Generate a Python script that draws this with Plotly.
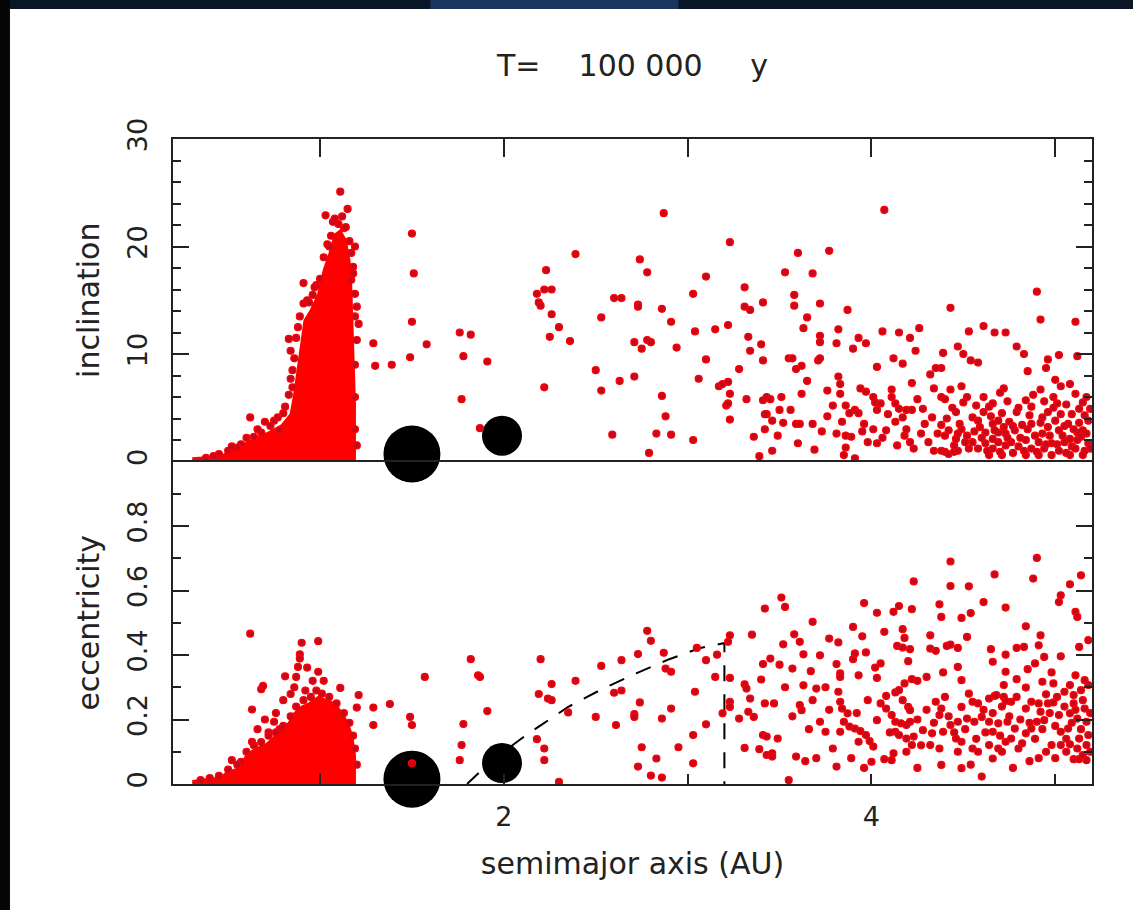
import plotly.graph_objects as go

# ---------------- data ----------------
x_range = [0.2, 5.2]
x_tickvals = [1, 2, 3, 4, 5]
x_ticktext = ["", "2", "", "4", ""]

# dense inner cluster (outline) - inclination panel
inc_blob_a = [0.31, 0.31, 0.46, 0.50, 0.57, 0.64, 0.72, 0.79, 0.84, 0.86, 0.88, 0.90,
              0.915, 0.95, 0.99, 1.02, 1.05, 1.08, 1.11, 1.14, 1.16, 1.17, 1.18, 1.19, 1.19]
inc_blob_i = [0, 0.3, 0.5, 0.87, 1.5, 2.1, 2.7, 3.35, 4.4, 6.3, 8.8, 11.3,
              13.1, 14.1, 15.6, 17.8, 19.3, 21.1, 21.5, 20.6, 18.7, 16.2, 11.6, 5.4, 0]

# dense inner cluster (outline) - eccentricity panel
ecc_blob_a = [0.31, 0.31, 0.46, 0.49, 0.56, 0.60, 0.65, 0.70, 0.74, 0.79, 0.83, 0.86,
              0.90, 0.94, 0.99, 1.03, 1.08, 1.12, 1.15, 1.175, 1.19, 1.19]
ecc_blob_e = [0, 0.01, 0.02, 0.035, 0.05, 0.09, 0.11, 0.12, 0.14, 0.17, 0.19, 0.22,
              0.24, 0.25, 0.27, 0.26, 0.25, 0.22, 0.19, 0.15, 0.09, 0]

# individual particles (a, inclination)
inc_points = [
    (1.11, 25.1), (1.03, 22.9), (1.15, 23.5), (1.10, 22.1), (1.13, 21.7), (1.07, 22.3),
    (0.91, 16.6), (0.91, 14.7), (0.98, 16.4), (0.83, 11.4), (0.84, 10.3), (0.85, 8.5),
    (0.84, 7.7), (0.85, 6.9), (0.81, 5.1), (0.75, 3.8), (0.78, 2.9), (0.70, 3.7),
    (0.68, 2.7), (0.62, 4.1), (0.57, 1.6), (0.50, 1.0), (1.19, 20.0), (1.18, 18.1),
    (1.17, 16.9), (1.19, 15.6), (1.20, 14.4), (1.21, 12.8), (1.20, 11.3),
    (0.88, 12.5), (0.89, 13.5), (0.93, 15.0), (0.96, 15.5), (1.00, 17.0), (1.02, 19.0),
    (1.04, 20.2), (1.06, 21.0), (1.08, 22.6), (1.12, 22.8), (1.14, 21.8), (1.16, 20.5),
    (1.17, 19.4), (1.18, 17.5), (1.19, 13.5), (1.19, 9.0), (1.19, 6.0), (1.19, 3.0),
    (1.20, 1.5), (0.86, 9.6), (0.87, 11.5), (0.83, 6.2), (0.80, 4.5), (0.77, 4.1),
    (0.73, 3.3), (0.66, 3.0), (0.64, 2.3), (0.60, 2.2), (0.55, 1.3), (0.52, 1.4),
    (0.45, 0.7), (0.42, 0.5), (0.38, 0.35), (0.94, 14.8), (0.97, 16.2), (1.05, 20.0),
    (1.50, 21.2), (1.51, 17.5), (1.50, 13.0), (1.49, 9.7), (1.29, 11.0), (1.30, 8.9),
    (1.39, 9.0), (1.58, 10.9), (1.76, 12.0), (1.82, 11.8), (1.78, 9.8), (1.91, 9.3),
    (1.77, 5.8), (1.87, 3.1),
    (2.23, 17.8), (2.18, 15.6), (2.22, 16.0), (2.26, 16.0), (2.19, 14.8), (2.20, 14.5),
    (2.26, 13.7), (2.30, 12.5), (2.25, 11.6), (2.36, 11.2), (2.22, 6.9), (2.39, 19.3),
    (2.53, 13.4), (2.50, 8.5), (2.53, 6.6), (2.59, 2.5), (2.60, 15.2), (2.64, 15.2),
    (2.73, 14.6), (2.73, 14.4), (2.74, 18.8), (2.78, 17.6), (2.71, 11.1), (2.78, 11.3),
    (2.80, 11.1), (2.75, 10.5), (2.63, 7.5), (2.71, 7.9), (2.87, 23.1), (2.86, 14.2),
    (2.91, 13.0), (2.94, 10.6), (2.86, 6.1), (2.88, 4.2), (2.83, 2.6), (2.91, 2.5),
    (2.79, 0.8), (3.10, 17.2), (3.03, 15.6), (3.04, 12.1), (3.15, 12.3), (3.22, 12.7),
    (3.10, 9.5), (3.06, 7.7), (3.28, 8.6), (3.17, 7.0), (3.19, 7.2), (3.22, 7.4),
    (3.23, 6.3), (3.21, 5.2), (3.22, 5.4), (3.23, 3.9), (3.03, 2.0), (3.23, 20.4),
    (3.31, 16.2), (3.31, 14.4), (3.34, 14.1), (3.41, 14.8), (3.33, 11.6), (3.40, 10.9),
    (3.34, 10.3), (3.41, 9.4), (3.32, 5.8), (3.41, 5.7), (3.43, 4.4), (3.42, 3.0),
    (3.36, 2.3), (3.39, 0.5),
    (4.07, 23.4), (3.60, 19.4), (3.77, 19.6), (3.53, 17.6), (3.68, 17.5), (3.58, 15.5),
    (3.58, 14.5), (3.72, 14.7), (3.87, 14.1), (3.65, 13.4), (3.63, 12.4), (3.82, 12.3),
    (3.72, 11.7), (3.72, 11.1), (3.81, 11.0), (3.93, 11.5), (3.97, 11.0), (3.90, 10.5),
    (4.06, 12.1), (4.15, 12.0), (4.21, 11.5), (4.26, 12.4), (4.24, 10.3), (4.12, 9.6),
    (4.17, 9.1), (4.03, 8.8), (4.43, 14.3), (4.53, 12.1), (4.61, 12.6), (4.67, 12.0),
    (4.73, 12.0), (4.79, 10.7), (4.83, 10.0), (4.85, 8.4), (4.90, 15.8), (4.92, 13.2),
    (5.11, 13.0), (4.96, 9.5), (4.95, 8.7), (5.02, 9.9), (5.12, 9.8), (4.47, 10.7),
    (4.50, 10.0), (4.54, 9.4), (4.58, 9.2), (4.39, 10.1), (4.38, 8.7), (4.35, 8.7),
    (4.32, 8.1), (4.49, 7.0), (4.43, 6.7), (4.34, 6.8), (4.52, 6.0), (4.72, 6.8),
    (4.92, 6.7), (5.03, 7.0), (5.08, 7.2),
    (3.55, 9.6), (3.57, 9.6), (3.62, 8.9), (3.59, 8.6), (3.71, 9.4), (3.72, 9.6),
    (3.65, 7.5), (3.62, 6.3), (3.51, 6.0), (3.43, 6.0), (3.45, 5.8), (3.42, 4.4),
    (3.46, 3.8), (3.52, 3.6), (3.59, 3.5), (3.61, 3.5), (3.49, 2.4), (3.46, 1.0),
    (3.60, 1.7), (3.68, 3.5), (3.76, 6.6), (3.76, 4.2), (3.82, 7.9), (3.83, 7.2),
    (3.83, 6.3), (3.86, 5.2), (3.84, 3.7), (3.81, 2.6), (3.86, 2.4), (3.89, 2.3),
    (3.86, 1.3), (3.85, 0.6), (3.91, 0.3), (3.94, 6.8), (3.97, 6.5), (3.91, 4.8),
    (3.93, 4.5), (3.96, 3.5), (4.01, 6.0), (4.02, 5.5), (4.05, 5.4), (4.03, 4.8),
    (4.11, 6.7), (4.11, 6.0), (4.13, 5.4), (4.15, 4.9), (4.08, 2.9), (4.01, 3.0),
    (4.03, 1.7), (4.13, 3.7), (4.17, 4.1), (4.19, 4.8), (4.22, 4.8), (4.14, 1.5),
    (4.18, 2.4), (4.21, 1.8), (4.23, 1.2), (4.22, 7.3), (4.28, 4.9), (4.29, 3.5),
    (4.33, 4.1), (4.34, 1.0), (4.38, 1.0), (4.40, 0.9), (4.42, 0.7), (4.45, 0.9),
    (4.47, 1.0), (4.38, 3.4), (4.40, 2.4), (4.42, 2.9), (4.46, 2.1), (4.47, 2.6),
    (4.51, 1.8), (4.38, 6.0), (4.40, 5.8), (4.46, 4.6), (4.48, 3.5), (4.52, 2.4),
    (4.55, 4.1), (4.58, 3.8), (4.61, 4.6), (4.64, 5.1), (4.66, 5.4),
    (4.55, 1.8), (4.58, 1.2), (4.62, 1.7), (4.66, 1.2), (4.69, 1.8), (4.73, 1.5),
    (4.76, 1.8), (4.80, 1.4), (4.84, 2.0), (4.87, 1.2), (4.91, 1.8), (4.94, 1.2),
    (4.98, 1.7), (5.02, 1.0), (5.05, 1.8), (5.09, 1.4), (5.12, 2.0), (5.16, 1.0),
    (5.18, 1.7), (4.64, 0.6), (4.71, 0.6), (4.84, 0.6), (4.91, 0.6), (4.98, 0.6),
    (5.08, 0.6), (5.15, 0.6),
    (4.84, 5.7), (4.87, 5.1), (4.93, 4.1), (4.96, 4.6), (4.99, 6.0), (5.01, 5.4),
    (5.03, 4.4), (5.09, 4.4), (5.13, 4.9), (5.17, 6.0), (5.18, 3.8), (5.15, 2.9),
    (5.12, 2.7), (5.07, 3.5), (5.02, 2.9), (4.96, 3.2), (4.93, 2.6), (4.87, 3.5),
    (4.82, 3.4), (4.78, 2.9), (4.73, 2.6), (4.69, 2.7), (4.66, 2.1), (4.59, 3.2),
    (4.62, 2.7), (4.66, 3.5), (4.69, 3.8), (4.72, 3.2), (4.75, 3.7),
    (4.45, 1.5), (4.49, 3.0), (4.53, 1.2), (4.56, 2.8), (4.60, 2.2), (4.63, 1.0),
    (4.65, 4.2), (4.67, 2.9), (4.70, 0.9), (4.71, 4.5), (4.74, 2.2), (4.77, 0.8),
    (4.77, 3.3), (4.79, 4.6), (4.81, 2.2), (4.83, 1.0), (4.85, 3.0), (4.86, 4.3),
    (4.89, 2.4), (4.90, 0.9), (4.92, 3.6), (4.95, 1.6), (4.97, 2.4), (4.99, 5.0),
    (5.00, 3.8), (5.01, 1.6), (5.04, 2.4), (5.05, 3.3), (5.06, 0.8), (5.08, 2.1),
    (5.10, 3.0), (5.11, 1.2), (5.13, 3.6), (5.14, 2.3), (5.16, 4.3), (5.17, 2.6),
    (5.19, 1.2), (5.19, 4.9), (5.15, 5.5), (5.11, 6.3), (5.06, 5.3), (5.00, 7.6),
    (4.94, 5.6), (4.88, 6.2), (4.80, 5.0), (4.74, 5.6), (4.70, 6.4), (4.61, 6.0),
    (4.57, 5.2), (4.50, 5.5), (4.44, 5.0), (4.41, 4.0), (4.36, 2.6), (4.31, 1.8),
    (4.27, 2.6), (4.25, 5.8), (4.19, 3.0), (4.09, 4.4), (4.06, 2.2), (3.98, 1.8),
    (3.95, 2.8), (3.88, 4.5), (3.79, 5.2), (3.73, 2.8), (3.69, 1.1), (3.56, 4.8),
    (3.50, 4.8),
]

# individual particles (a, eccentricity)
ecc_points = [
    (0.62, 0.466), (0.90, 0.438), (0.99, 0.443), (0.89, 0.402), (0.89, 0.389), (0.88, 0.363),
    (0.93, 0.361), (0.99, 0.348), (0.81, 0.334), (0.87, 0.332), (0.68, 0.294), (0.69, 0.304),
    (0.84, 0.279), (0.63, 0.231), (1.11, 0.298), (1.21, 0.276), (1.20, 0.237), (1.29, 0.237),
    (1.38, 0.248), (1.29, 0.183), (1.57, 0.332), (1.49, 0.208), (1.50, 0.183), (0.63, 0.131),
    (0.52, 0.074), (0.57, 0.069), (0.75, 0.193), (0.96, 0.32), (1.02, 0.32), (0.78, 0.17),
    (0.72, 0.16), (1.50, 0.064),
    (0.60, 0.10), (0.64, 0.12), (0.68, 0.13), (0.72, 0.15), (0.76, 0.16), (0.80, 0.18),
    (0.84, 0.21), (0.87, 0.24), (0.91, 0.26), (0.95, 0.27), (0.98, 0.29), (1.01, 0.28),
    (1.05, 0.27), (1.09, 0.25), (1.13, 0.22), (1.16, 0.19), (1.18, 0.15), (1.19, 0.11),
    (1.20, 0.06), (0.86, 0.30), (0.92, 0.29), (0.80, 0.26), (0.76, 0.22), (0.70, 0.20),
    (0.66, 0.17), (0.55, 0.06), (0.50, 0.045), (0.45, 0.025), (0.40, 0.018), (0.35, 0.012),
    (1.82, 0.387), (1.86, 0.337), (1.87, 0.332), (1.91, 0.226), (1.78, 0.186), (1.77, 0.121),
    (1.76, 0.074), (2.20, 0.387), (2.26, 0.310), (2.19, 0.279), (2.24, 0.265), (2.26, 0.260),
    (2.18, 0.139), (2.22, 0.110), (2.22, 0.074), (2.30, 0.007), (2.39, 0.320), (2.35, 0.222),
    (2.53, 0.366), (2.50, 0.208), (2.60, 0.283), (2.64, 0.290), (2.64, 0.384), (2.61, 0.183),
    (2.73, 0.403), (2.78, 0.475), (2.80, 0.444), (2.74, 0.253), (2.71, 0.217), (2.71, 0.208),
    (2.87, 0.407), (2.88, 0.358), (2.91, 0.348), (2.91, 0.234), (2.86, 0.203), (2.75, 0.114),
    (2.83, 0.079), (2.73, 0.054), (2.80, 0.026), (2.86, 0.020), (2.95, 0.114), (3.04, 0.286),
    (3.05, 0.422), (3.10, 0.384), (3.16, 0.401), (3.15, 0.332), (3.03, 0.152), (3.03, 0.064),
    (3.10, 0.185), (3.23, 0.461), (3.22, 0.441), (3.23, 0.329), (3.23, 0.255), (3.23, 0.239),
    (3.19, 0.219), (3.35, 0.463), (3.42, 0.544), (3.41, 0.372), (3.40, 0.324), (3.31, 0.309),
    (3.32, 0.296), (3.34, 0.265), (3.33, 0.224), (3.36, 0.208), (3.28, 0.203), (3.42, 0.250),
    (3.41, 0.152), (3.31, 0.112), (3.39, 0.108), (3.43, 0.090),
    (4.43, 0.690), (4.90, 0.701), (4.67, 0.650), (4.88, 0.637), (5.14, 0.647), (5.08, 0.619),
    (5.03, 0.585), (5.02, 0.564), (5.11, 0.534), (5.12, 0.518), (5.13, 0.425), (5.18, 0.446),
    (4.23, 0.628), (4.43, 0.614), (4.53, 0.613), (4.61, 0.564), (4.73, 0.547), (4.37, 0.557),
    (4.38, 0.518), (4.49, 0.515), (4.54, 0.530), (4.22, 0.542), (4.12, 0.534), (4.15, 0.552),
    (4.03, 0.531), (3.96, 0.561), (3.51, 0.578), (3.53, 0.549), (3.68, 0.503), (3.58, 0.464),
    (3.61, 0.441), (3.52, 0.433), (3.63, 0.402), (3.45, 0.389), (3.57, 0.358), (3.72, 0.399),
    (3.77, 0.451), (3.82, 0.439), (3.90, 0.487), (3.95, 0.458), (3.91, 0.405), (3.90, 0.387),
    (3.97, 0.408), (3.81, 0.372), (3.83, 0.343), (3.83, 0.332), (3.93, 0.337), (4.07, 0.472),
    (4.17, 0.480), (4.18, 0.453), (4.14, 0.428), (4.17, 0.423), (4.21, 0.418), (4.20, 0.381),
    (4.05, 0.374), (4.02, 0.361), (4.03, 0.329), (4.32, 0.461), (4.32, 0.420), (4.35, 0.413),
    (4.41, 0.428), (4.43, 0.432), (4.47, 0.422), (4.52, 0.456), (4.47, 0.363), (4.39, 0.346),
    (4.49, 0.322), (4.18, 0.312), (4.22, 0.325), (4.25, 0.320), (4.30, 0.332), (4.08, 0.273),
    (4.13, 0.284), (4.15, 0.291), (4.65, 0.418), (4.66, 0.379), (4.73, 0.348), (4.72, 0.307),
    (4.73, 0.401), (4.79, 0.422), (4.83, 0.425), (4.84, 0.489), (4.92, 0.461), (4.91, 0.430),
    (4.94, 0.394), (4.89, 0.374), (4.85, 0.356), (4.98, 0.346), (4.93, 0.317), (4.99, 0.312),
    (5.03, 0.396), (4.79, 0.325), (4.84, 0.299), (4.72, 0.270), (4.76, 0.255), (4.67, 0.273),
    (4.73, 0.257), (4.95, 0.278), (4.96, 0.250), (4.99, 0.253), (5.08, 0.307), (5.11, 0.337),
    (5.16, 0.322), (5.18, 0.307), (5.05, 0.286), (5.10, 0.276), (5.14, 0.291), (5.10, 0.250),
    (5.16, 0.234), (5.02, 0.214), (5.08, 0.219), (5.12, 0.203), (5.17, 0.193), (5.03, 0.162),
    (5.07, 0.172), (5.13, 0.141), (5.18, 0.152), (4.98, 0.121), (5.03, 0.121), (5.08, 0.123),
    (5.12, 0.110), (5.17, 0.121), (5.10, 0.077), (5.13, 0.077), (5.17, 0.074), (4.86, 0.071),
    (4.60, 0.023), (4.49, 0.049), (4.38, 0.059), (3.81, 0.054), (4.00, 0.069), (3.55, 0.012),
    (3.59, 0.085), (3.64, 0.071), (3.46, 0.095), (3.46, 0.085), (3.43, 0.147), (3.49, 0.141),
    (3.72, 0.193), (3.75, 0.162), (3.70, 0.296), (3.68, 0.260), (3.61, 0.245), (3.62, 0.229),
    (3.63, 0.306), (3.82, 0.286), (3.83, 0.255), (3.84, 0.234), (3.87, 0.219), (3.85, 0.193),
    (3.83, 0.162), (3.88, 0.178), (3.91, 0.172), (3.94, 0.164), (3.97, 0.152), (3.93, 0.131),
    (3.99, 0.133), (4.01, 0.116), (4.03, 0.198), (4.08, 0.234), (4.11, 0.214), (4.13, 0.193),
    (4.16, 0.188), (4.19, 0.183), (4.21, 0.193), (4.13, 0.162), (4.15, 0.152), (4.19, 0.141),
    (4.23, 0.147), (4.28, 0.167), (4.33, 0.157), (4.20, 0.239), (4.21, 0.229), (4.12, 0.095),
    (4.11, 0.074), (4.19, 0.100), (4.22, 0.121), (4.07, 0.077), (4.32, 0.121), (4.37, 0.110),
    (4.39, 0.162), (4.43, 0.183), (4.47, 0.193), (4.52, 0.203), (4.56, 0.193), (4.60, 0.208),
    (4.64, 0.193), (4.66, 0.162), (4.35, 0.255), (4.38, 0.234), (4.37, 0.214), (4.49, 0.239),
    (4.55, 0.255), (4.58, 0.250), (4.64, 0.265), (4.68, 0.276), (4.46, 0.141), (4.49, 0.131),
    (4.55, 0.110), (4.58, 0.100), (4.64, 0.121), (4.69, 0.110), (4.73, 0.131), (4.76, 0.141),
    (4.82, 0.126), (4.69, 0.188), (4.74, 0.193), (4.78, 0.172), (4.84, 0.157), (4.87, 0.172),
    (4.90, 0.193), (4.94, 0.198), (4.84, 0.234), (4.87, 0.255), (4.92, 0.224), (4.47, 0.100),
    (4.66, 0.079), (4.71, 0.100),
    (4.05, 0.25), (4.10, 0.16), (4.17, 0.26), (4.25, 0.20), (4.27, 0.12), (4.30, 0.23),
    (4.34, 0.19), (4.40, 0.27), (4.42, 0.21), (4.45, 0.16), (4.51, 0.17), (4.53, 0.28),
    (4.57, 0.14), (4.61, 0.23), (4.62, 0.16), (4.66, 0.22), (4.70, 0.15), (4.71, 0.24),
    (4.75, 0.21), (4.79, 0.27), (4.80, 0.11), (4.81, 0.20), (4.86, 0.19), (4.89, 0.14),
    (4.91, 0.25), (4.93, 0.17), (4.97, 0.22), (5.00, 0.18), (5.01, 0.27), (5.05, 0.24),
    (5.06, 0.14), (5.09, 0.19), (5.11, 0.23), (5.14, 0.17), (5.15, 0.26), (5.19, 0.22),
    (5.19, 0.10), (5.15, 0.09), (5.06, 0.10), (4.95, 0.10), (4.91, 0.08), (3.98, 0.26),
    (3.92, 0.22), (3.77, 0.23), (3.66, 0.17), (3.57, 0.21), (3.53, 0.30), (3.47, 0.25),
    (3.50, 0.37), (3.67, 0.35), (3.75, 0.30), (3.79, 0.11), (3.70, 0.08), (3.89, 0.08),
    (3.96, 0.05), (4.25, 0.05), (4.54, 0.06), (4.77, 0.05), (5.00, 0.08),
]

# planets (semimajor axis, inclination, eccentricity, symbol size)
planet_a = [1.50, 1.99]
planet_inc = [0.7, 2.4]
planet_ecc = [0.015, 0.065]
planet_size = [57, 40]

# dashed boundary in the eccentricity panel
curve_a = [1.80, 1.87, 2.00, 2.11, 2.19, 2.35, 2.54, 2.72, 2.90, 3.07, 3.20, 3.20]
curve_e = [0.0, 0.038, 0.10, 0.147, 0.178, 0.239, 0.296, 0.343, 0.387, 0.422, 0.437, 0.0]

# ---------------- figure ----------------
RED = "#ff0000"
DOT = "#c8081e"
INK = "#222222"
FONT = "DejaVu Sans"

fig = go.Figure()

# top panel
fig.add_trace(go.Scatter(x=inc_blob_a, y=inc_blob_i, mode="lines", fill="toself",
                         fillcolor=RED, line=dict(color=RED, width=2),
                         xaxis="x", yaxis="y", showlegend=False, hoverinfo="skip"))
fig.add_trace(go.Scatter(x=planet_a, y=planet_inc, mode="markers",
                         marker=dict(size=planet_size, color="black", opacity=1,
                                     line=dict(width=0)),
                         xaxis="x", yaxis="y", cliponaxis=False, showlegend=False))
fig.add_trace(go.Scatter(x=[p[0] for p in inc_points], y=[p[1] for p in inc_points],
                         mode="markers",
                         marker=dict(size=7, color=DOT, opacity=1,
                                     line=dict(color=RED, width=1.2)),
                         xaxis="x", yaxis="y", showlegend=False))

# bottom panel
fig.add_trace(go.Scatter(x=ecc_blob_a, y=ecc_blob_e, mode="lines", fill="toself",
                         fillcolor=RED, line=dict(color=RED, width=2),
                         xaxis="x2", yaxis="y2", showlegend=False, hoverinfo="skip"))
fig.add_trace(go.Scatter(x=curve_a, y=curve_e, mode="lines",
                         line=dict(color="black", width=2, dash="16px,13px"),
                         xaxis="x2", yaxis="y2", showlegend=False))
fig.add_trace(go.Scatter(x=planet_a, y=planet_ecc, mode="markers",
                         marker=dict(size=planet_size, color="black", opacity=1,
                                     line=dict(width=0)),
                         xaxis="x2", yaxis="y2", cliponaxis=False, showlegend=False))
fig.add_trace(go.Scatter(x=[p[0] for p in ecc_points], y=[p[1] for p in ecc_points],
                         mode="markers",
                         marker=dict(size=7, color=DOT, opacity=1,
                                     line=dict(color=RED, width=1.2)),
                         xaxis="x2", yaxis="y2", showlegend=False))

tick_font = dict(family=FONT, size=27, color=INK)
label_font = dict(family=FONT, size=30, color=INK)
common_x = dict(range=x_range, tickvals=x_tickvals, showgrid=False, zeroline=False,
                linewidth=2, linecolor=INK, tickwidth=2, tickcolor=INK)

fig.update_layout(
    width=1133, height=910,
    margin=dict(l=173, r=41, t=139, b=126),
    paper_bgcolor="white", plot_bgcolor="white",
    font=dict(family=FONT, size=27, color=INK),
    title=dict(text="T=\u00a0\u00a0\u00a0\u00a0100\u00a0000\u00a0\u00a0\u00a0\u00a0\u00a0y",
               x=0.5, xref="paper", y=1 - 65 / 910, yref="container",
               yanchor="middle", xanchor="center", font=label_font),
    xaxis=dict(**common_x, domain=[0, 1], anchor="y", side="top", ticks="inside",
               ticklen=18, showticklabels=False, showline=True, mirror=False),
    xaxis2=dict(**common_x, domain=[0, 1], anchor="y2", side="bottom", ticks="inside",
                ticklen=10, ticktext=x_ticktext, tickfont=tick_font, showline=True,
                mirror=True, ticklabelstandoff=8,
                title=dict(text="semimajor axis (AU)", font=label_font, standoff=22)),
    xaxis3=dict(**common_x, overlaying="x2", anchor="y2", side="top", ticks="inside",
                ticklen=18, showticklabels=False, showline=False),
    yaxis=dict(domain=[0.5, 1], anchor="x", range=[0, 30], tickmode="linear", tick0=0,
               dtick=10, ticks="inside", ticklen=16, tickwidth=2, tickcolor=INK,
               minor=dict(dtick=2, tick0=0, ticks="inside", ticklen=8, tickwidth=2,
                          tickcolor=INK, showgrid=False),
               showgrid=False, zeroline=False, showline=True, linewidth=2, linecolor=INK,
               mirror="ticks", tickangle=-90, tickfont=tick_font, ticklabelstandoff=13,
               title=dict(text="inclination", font=label_font, standoff=14)),
    yaxis2=dict(domain=[0, 0.5], anchor="x2", range=[0, 1],
                tickvals=[0, 0.2, 0.4, 0.6, 0.8, 1.0],
                ticktext=["0", "0.2", "0.4", "0.6", "0.8", ""],
                ticks="inside", ticklen=16, tickwidth=2, tickcolor=INK,
                minor=dict(dtick=0.1, tick0=0, ticks="inside", ticklen=8, tickwidth=2,
                           tickcolor=INK, showgrid=False),
                showgrid=False, zeroline=False, showline=True, linewidth=2, linecolor=INK,
                mirror="ticks", tickangle=-90, tickfont=tick_font, ticklabelstandoff=13,
                title=dict(text="eccentricity", font=label_font, standoff=14)),
    shapes=[
        dict(type="rect", xref="paper", yref="paper", x0=-0.2, x1=1.06,
             y0=1.2016, y1=1.23, fillcolor="#0a1526", line=dict(width=0), layer="below"),
        dict(type="rect", xref="paper", yref="paper", x0=0.28, x1=0.55,
             y0=1.2016, y1=1.23, fillcolor="#1a3560", line=dict(width=0), layer="below"),
        dict(type="rect", xref="paper", yref="paper", x0=-0.2, x1=-0.1774,
             y0=-0.21, y1=1.23, fillcolor="#050505", line=dict(width=0), layer="below"),
    ],
)

fig.write_html("out.html")
